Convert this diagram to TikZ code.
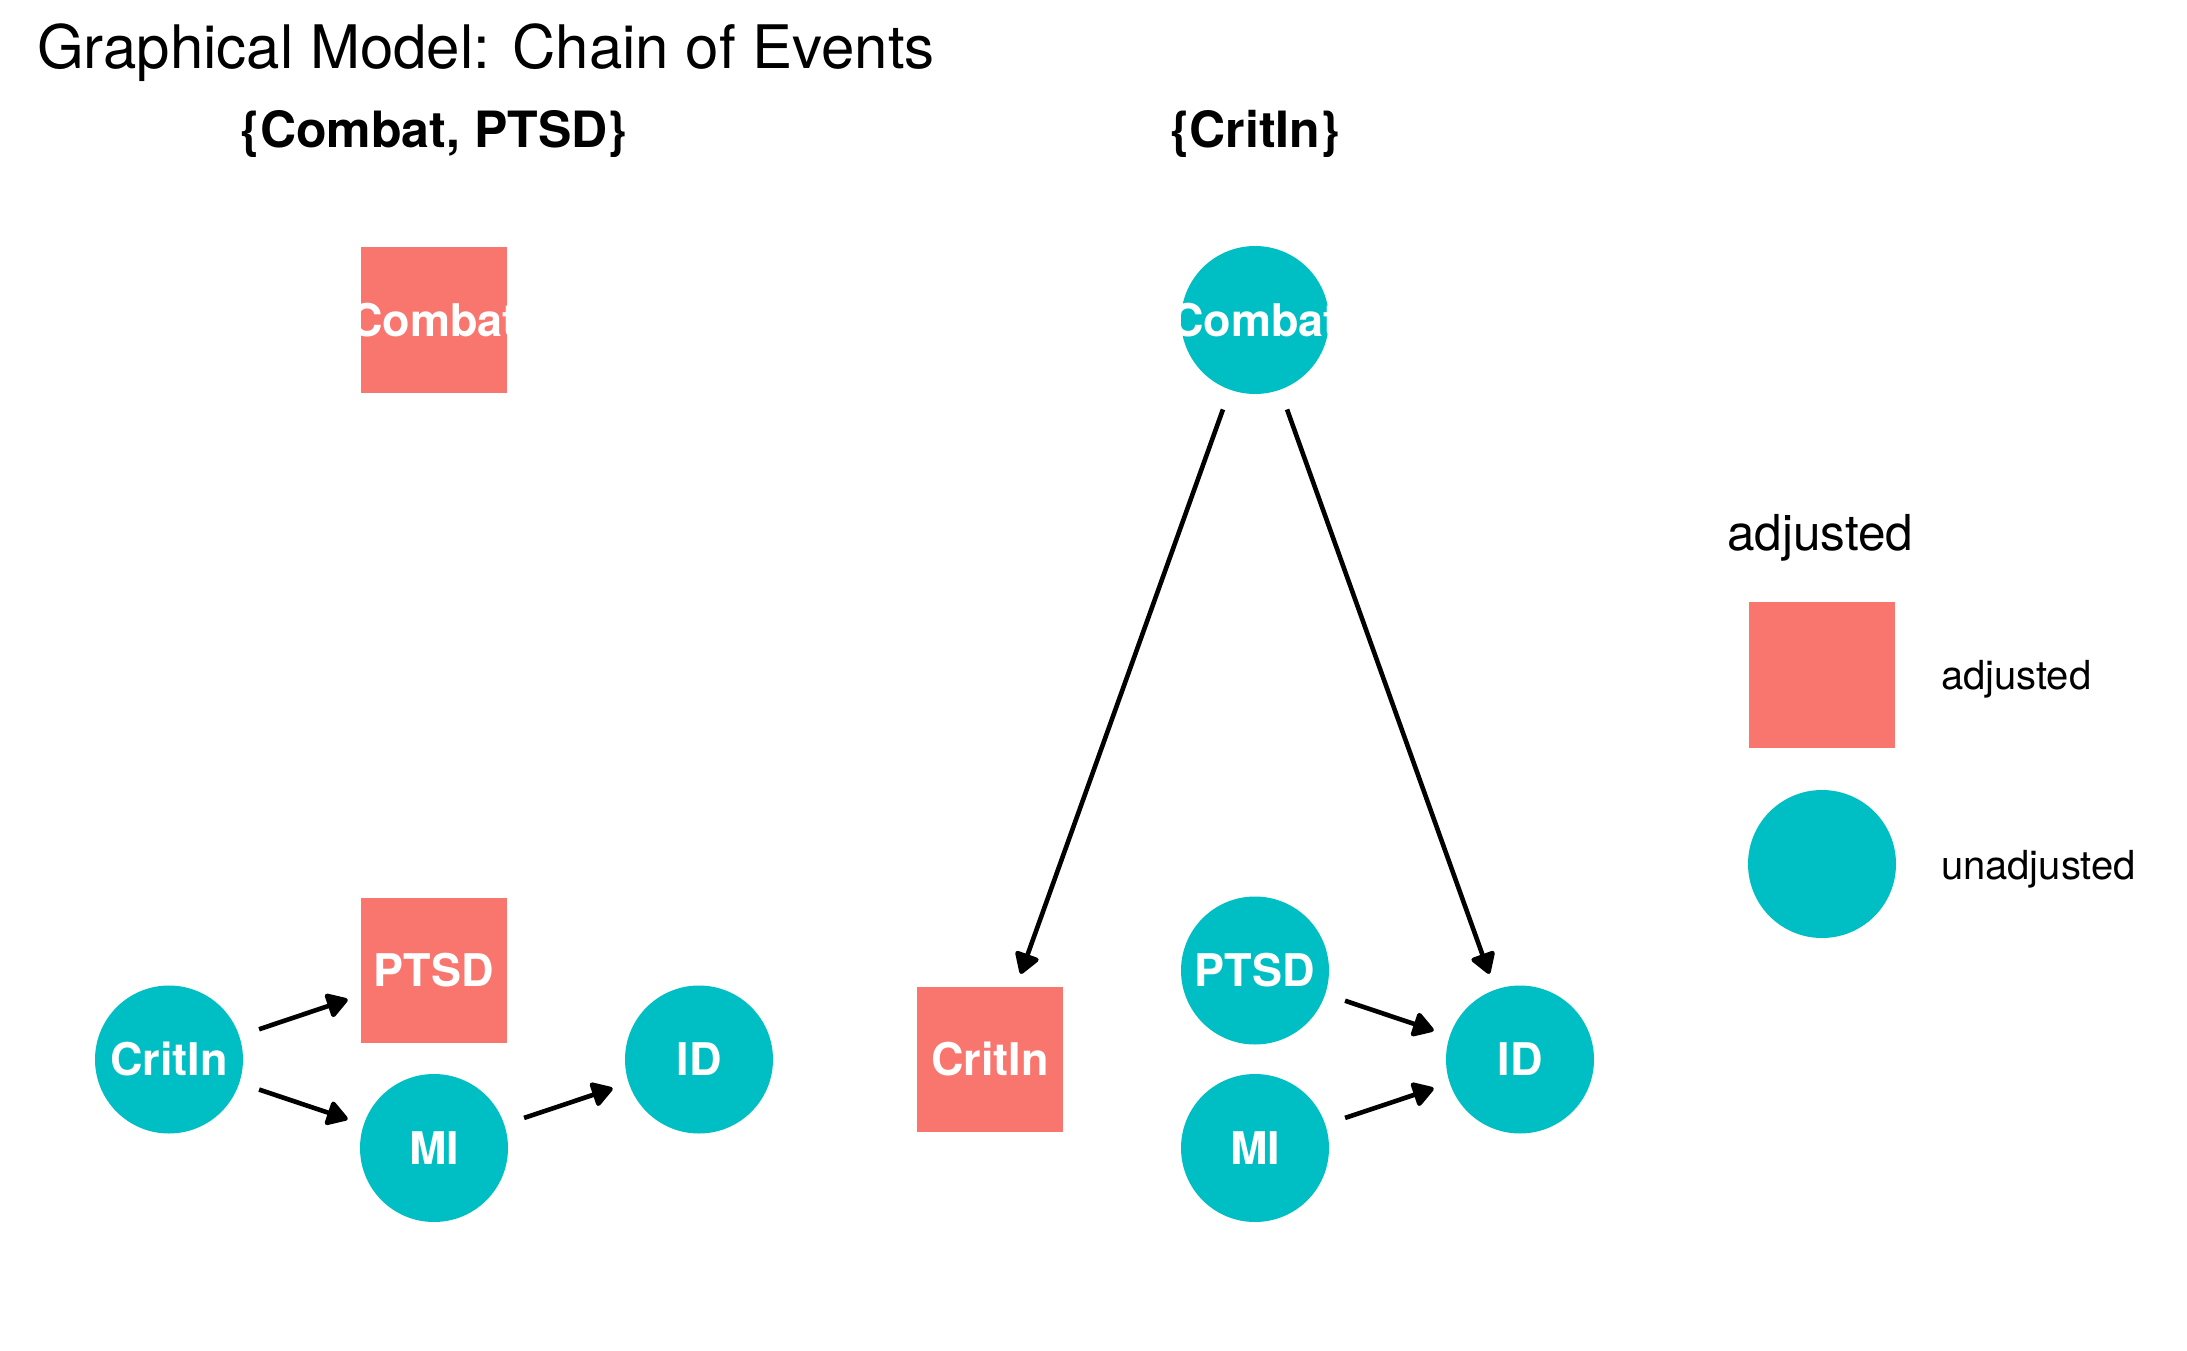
\documentclass[tikz,border=0pt]{standalone}
\usepackage{fontspec}
\setmainfont{TeX Gyre Heros}
\usetikzlibrary{calc,arrows.meta}
\definecolor{adjred}{HTML}{F8766D}
\definecolor{unadjteal}{HTML}{00BFC4}
\tikzset{
  txt/.style={inner sep=0pt, outer sep=0pt},
  unadj/.style={circle, fill=unadjteal, minimum size=148pt, inner sep=0pt, text=white,
     font=\fontsize{45}{45}\selectfont\bfseries, text height=32.3pt, text depth=0pt},
  adj/.style={rectangle, fill=adjred, minimum size=145.5pt, inner sep=0pt, text=white,
     font=\fontsize{45}{45}\selectfont\bfseries, text height=32.3pt, text depth=0pt},
  edge/.style={line width=4.6pt, -{Triangle[length=23pt,width=27pt,round]}},
}
\newcommand{\lbl}[1]{\makebox[0pt][c]{#1}}
\newcommand{\arc}[2]{\draw[edge] ($(#1.center)!95pt!(#2.center)$) -- ($(#2.center)!91pt!(#1.center)$);}
\begin{document}
\begin{tikzpicture}[x=1pt,y=-1pt]
\useasboundingbox[fill=white] (0,0) rectangle (2187,1351);
% title
\node[txt, anchor=base west, font=\fontsize{60}{60}\selectfont] (title) at (37,69) {Graphical Model: Chain of Events};
% strip titles
\node[txt, anchor=base, font=\fontsize{50}{50}\selectfont\bfseries] (strip1) at (434,148) {\{Combat, PTSD\}};
\node[txt, anchor=base, font=\fontsize{50}{50}\selectfont\bfseries] (strip2) at (1255,148) {\{CritIn\}};
% left panel
\node[adj] (LCombat) at (434,320) {\lbl{Combat}};
\node[adj] (LPTSD) at (434,970.5) {\lbl{PTSD}};
\node[unadj] (LCritIn) at (169,1059.5) {\lbl{CritIn}};
\node[unadj] (LMI) at (434,1148) {\lbl{MI}};
\node[unadj] (LID) at (699,1059.5) {\lbl{ID}};
\arc{LCritIn}{LPTSD}
\arc{LCritIn}{LMI}
\arc{LMI}{LID}
% right panel
\node[unadj] (RCombat) at (1255,320) {\lbl{Combat}};
\node[unadj] (RPTSD) at (1255,970.5) {\lbl{PTSD}};
\node[adj] (RCritIn) at (990,1059.5) {\lbl{CritIn}};
\node[unadj] (RMI) at (1255,1148) {\lbl{MI}};
\node[unadj] (RID) at (1520,1059.5) {\lbl{ID}};
\arc{RCombat}{RCritIn}
\arc{RCombat}{RID}
\arc{RPTSD}{RID}
\arc{RMI}{RID}
% legend
\node[txt, anchor=base west, font=\fontsize{49.5}{49.5}\selectfont] (legtitle) at (1727,550) {adjusted};
\node[rectangle, fill=adjred, minimum size=145.5pt, inner sep=0pt] (legsq) at (1822,675) {};
\node[circle, fill=unadjteal, minimum size=148pt, inner sep=0pt] (legci) at (1822,864) {};
\node[txt, anchor=base west, font=\fontsize{40}{40}\selectfont] (leglab1) at (1941,689) {adjusted};
\node[txt, anchor=base west, font=\fontsize{40}{40}\selectfont] (leglab2) at (1941,879) {unadjusted};
\end{tikzpicture}
\end{document}
